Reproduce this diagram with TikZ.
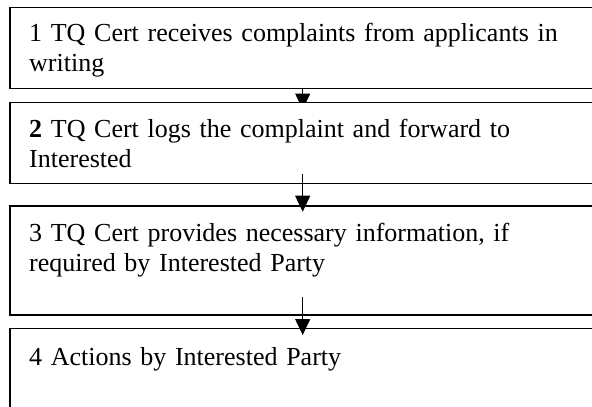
\documentclass[tikz,border=0pt]{standalone}
\usepackage{fontspec}
\setmainfont{Liberation Serif}
\usetikzlibrary{arrows.meta,backgrounds}
\begin{document}
\begin{tikzpicture}[x=1pt,y=-1pt,
  stepbox/.style={draw=black, line width=1.2pt, fill=white, rectangle, inner sep=0pt, outer sep=0pt, anchor=north west, minimum width=600pt},
  txt/.style={anchor=base west, inner sep=0pt, align=left, text width=560pt, font=\fontsize{26}{30}\selectfont},
  flow/.style={line width=1.2pt, -{Triangle[length=16pt,width=15pt]}}]
\useasboundingbox (0,0) rectangle (592,407);
\clip (0,0) rectangle (592,407);
% boxes
\node[stepbox, minimum height=81.2pt] (b1) at (10,7.3) {};
\node[stepbox, minimum height=80.8pt] (b2) at (10,102.7) {};
\node[stepbox, minimum height=109pt] (b3) at (10,206) {};
\node[stepbox, minimum height=100pt] (b4) at (10,328.6) {};
% texts
\node[txt] (t1) at (29,41.7) {1 TQ Cert receives complaints from applicants in\\writing};
\node[txt] (t2) at (29,137.3) {\textbf{2} TQ Cert logs the complaint and forward to\\Interested};
\node[txt] (t3) at (29,241.7) {3 TQ Cert provides necessary information, if\\required by Interested Party};
\node[txt] (t4) at (29,365) {4 Actions by Interested Party};
% connectors
\coordinate (s1) at (302.7,86);
\coordinate (e1) at (302.7,109.5);
\coordinate (s2) at (302.7,174);
\coordinate (e2) at (302.7,211.7);
\coordinate (s3) at (302.7,297.3);
\coordinate (e3) at (302.7,335);
\begin{scope}[on background layer]
\draw[flow] (s1) -- (e1);
\end{scope}
\draw[flow] (s2) -- (e2);
\draw[flow] (s3) -- (e3);
\end{tikzpicture}
\end{document}
